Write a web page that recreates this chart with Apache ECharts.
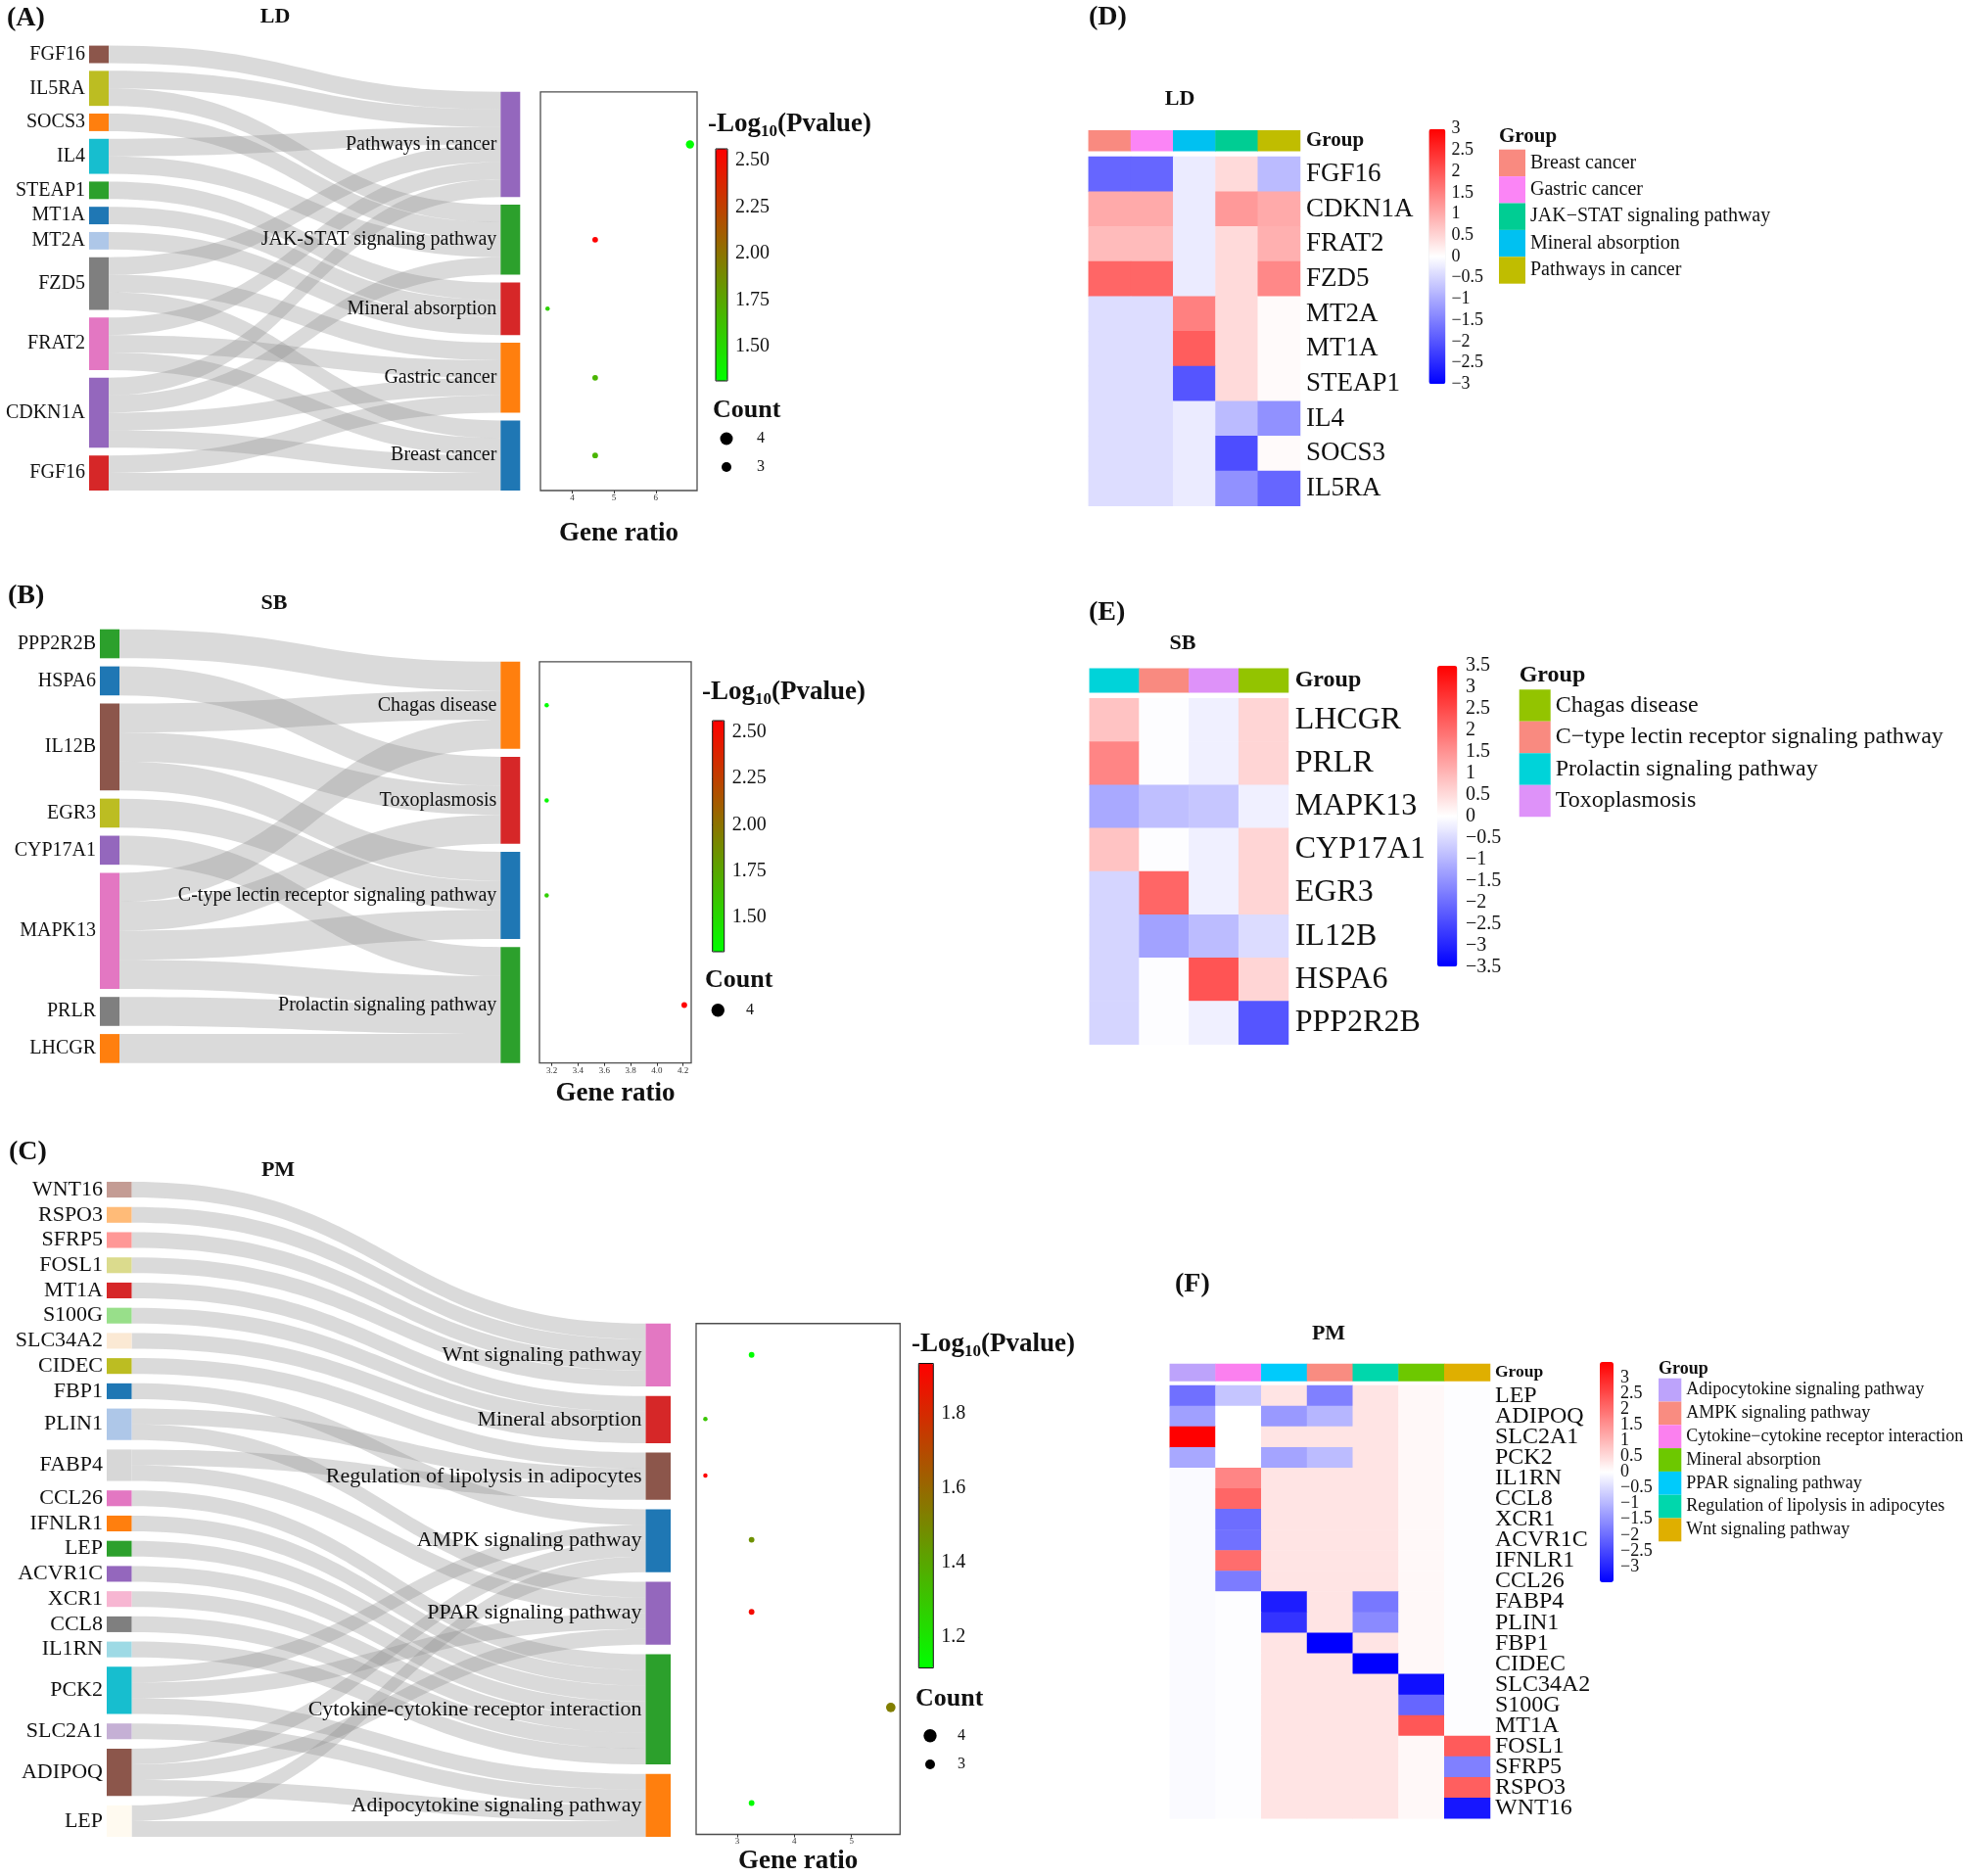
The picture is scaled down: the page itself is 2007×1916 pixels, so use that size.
<!DOCTYPE html>
<html><head><meta charset="utf-8">
<script src="https://cdn.jsdelivr.net/npm/echarts/dist/echarts.min.js"></script>
<style>html,body{margin:0;padding:0;background:#fff}#c{width:2007px;height:1916px}</style>
</head><body><div id="c"></div>
<script>
const FONT = "'Liberation Serif','DejaVu Serif',serif";
const MINUS = '\u2212';

// ================= Panel A (LD) : genes -> pathways =================
const A_genes = ['FGF16','IL5RA','SOCS3','IL4','STEAP1','MT1A','MT2A','FZD5','FRAT2','CDKN1A','FGF16'];
const A_geneColors = ['#8c564b','#bcbd22','#ff7f0e','#17becf','#2ca02c','#1f77b4','#aec7e8','#7f7f7f','#e377c2','#9467bd','#d62728'];
const A_pathways = ['Pathways in cancer','JAK-STAT signaling pathway','Mineral absorption','Gastric cancer','Breast cancer'];
const A_pathwayColors = ['#9467bd','#2ca02c','#d62728','#ff7f0e','#1f77b4'];
// [gene index, pathway index]
const A_links = [[0,0],[1,0],[1,1],[2,1],[3,0],[3,1],[4,2],[5,2],[6,2],[7,0],[7,3],[7,4],[8,0],[8,3],[8,4],[9,0],[9,1],[9,3],[9,4],[10,3],[10,4]];
const A_geneRatio = [6.82, 4.55, 3.41, 4.55, 4.55];
const A_logP = [1.316, 2.562, 1.54, 1.68, 1.68];
const A_count = [6, 4, 3, 4, 4];
const A_xTicks = [4, 5, 6];
const A_cbTicks = [1.5, 1.75, 2.0, 2.25, 2.5];

// ================= Panel B (SB) =================
const B_genes = ['PPP2R2B','HSPA6','IL12B','EGR3','CYP17A1','MAPK13','PRLR','LHCGR'];
const B_geneColors = ['#2ca02c','#1f77b4','#8c564b','#bcbd22','#9467bd','#e377c2','#7f7f7f','#ff7f0e'];
const B_pathways = ['Chagas disease','Toxoplasmosis','C-type lectin receptor signaling pathway','Prolactin signaling pathway'];
const B_pathwayColors = ['#ff7f0e','#d62728','#1f77b4','#2ca02c'];
const B_links = [[0,0],[1,1],[2,0],[2,1],[2,2],[3,2],[4,3],[5,0],[5,1],[5,2],[5,3],[6,3],[7,3]];
const B_geneRatio = [3.16, 3.16, 3.16, 4.21];
const B_logP = [1.316, 1.35, 1.55, 2.562];
const B_count = [3, 3, 3, 4];
const B_xTicks = [3.2, 3.4, 3.6, 3.8, 4.0, 4.2];
const B_cbTicks = [1.5, 1.75, 2.0, 2.25, 2.5];

// ================= Panel C (PM) =================
const C_genes = ['WNT16','RSPO3','SFRP5','FOSL1','MT1A','S100G','SLC34A2','CIDEC','FBP1','PLIN1','FABP4','CCL26','IFNLR1','LEP','ACVR1C','XCR1','CCL8','IL1RN','PCK2','SLC2A1','ADIPOQ','LEP'];
const C_geneColors = ['#c49c94','#ffbb78','#ff9896','#dbdb8d','#d62728','#98df8a','#fbe9d4','#bcbd22','#1f77b4','#aec7e8','#d7d7d7','#e377c2','#ff7f0e','#2ca02c','#9467bd','#f7b6d2','#7f7f7f','#9edae5','#17becf','#c5b0d5','#8c564b','#fffaf0'];
const C_pathways = ['Wnt signaling pathway','Mineral absorption','Regulation of lipolysis in adipocytes','AMPK signaling pathway','PPAR signaling pathway','Cytokine-cytokine receptor interaction','Adipocytokine signaling pathway'];
const C_pathwayColors = ['#e377c2','#d62728','#8c564b','#1f77b4','#9467bd','#2ca02c','#ff7f0e'];
const C_links = [[0,0],[1,0],[2,0],[3,0],[4,1],[5,1],[6,1],[7,2],[8,3],[9,2],[9,4],[10,2],[10,4],[11,5],[12,5],[13,5],[14,5],[15,5],[16,5],[17,5],[18,3],[18,4],[18,6],[19,6],[20,3],[20,4],[20,6],[21,3],[21,6]];
const C_geneRatio = [3.25, 2.44, 2.44, 3.25, 3.25, 5.69, 3.25];
const C_logP = [1.118, 1.30, 1.933, 1.47, 1.90, 1.53, 1.125];
const C_count = [4, 3, 3, 4, 4, 7, 4];
const C_xTicks = [3, 4, 5];
const C_cbTicks = [1.2, 1.4, 1.6, 1.8];

// ================= Panel D heatmap (LD) =================
const D_cols = ['Breast cancer','Gastric cancer','Mineral absorption','JAK'+MINUS+'STAT signaling pathway','Pathways in cancer'];
const D_colColors = ['#F98A80','#FB85F6','#00C1F1','#00CD93','#C0BD00'];
const D_legendOrder = ['Breast cancer','Gastric cancer','JAK'+MINUS+'STAT signaling pathway','Mineral absorption','Pathways in cancer'];
const D_rows = ['FGF16','CDKN1A','FRAT2','FZD5','MT2A','MT1A','STEAP1','IL4','SOCS3','IL5RA'];
const D_values = [
  [-1.8,-1.8,-0.24, 0.43,-0.8],
  [ 1.0, 1.0,-0.24, 1.2,  1.0],
  [ 0.8, 0.8,-0.24, 0.43, 0.93],
  [ 1.8, 1.8,-0.24, 0.43, 1.4],
  [-0.4,-0.4, 1.5,  0.43, 0.06],
  [-0.4,-0.4, 1.9,  0.43, 0.06],
  [-0.4,-0.4,-2.0,  0.43, 0.06],
  [-0.4,-0.4,-0.24,-0.8, -1.3],
  [-0.4,-0.4,-0.24,-2.1,  0.06],
  [-0.4,-0.4,-0.24,-1.3, -1.8]
];

// ================= Panel E heatmap (SB) =================
const E_cols = ['Prolactin signaling pathway','C'+MINUS+'type lectin receptor signaling pathway','Toxoplasmosis','Chagas disease'];
const E_colColors = ['#00D3D9','#F98A80','#DE92F9','#93C400'];
const E_legendOrder = ['Chagas disease','C'+MINUS+'type lectin receptor signaling pathway','Prolactin signaling pathway','Toxoplasmosis'];
const E_rows = ['LHCGR','PRLR','MAPK13','CYP17A1','EGR3','IL12B','HSPA6','PPP2R2B'];
const E_values = [
  [ 0.82,-0.03,-0.2, 0.58],
  [ 1.68,-0.03,-0.2, 0.58],
  [-1.18,-0.88,-0.78,-0.2],
  [ 0.82,-0.03,-0.2, 0.58],
  [-0.58, 2.1, -0.2, 0.58],
  [-0.58,-1.28,-0.92,-0.48],
  [-0.58,-0.03, 2.35, 0.58],
  [-0.58,-0.03,-0.2,-2.33]
];

// ================= Panel F heatmap (PM) =================
const F_cols = ['Adipocytokine signaling pathway','Cytokine'+MINUS+'cytokine receptor interaction','PPAR signaling pathway','AMPK signaling pathway','Regulation of lipolysis in adipocytes','Mineral absorption','Wnt signaling pathway'];
const F_colColors = ['#BDA3FB','#FB80EF','#00CBFB','#F98C81','#00D7AC','#6DC800','#DFAF00'];
const F_legendOrder = ['Adipocytokine signaling pathway','AMPK signaling pathway','Cytokine'+MINUS+'cytokine receptor interaction','Mineral absorption','PPAR signaling pathway','Regulation of lipolysis in adipocytes','Wnt signaling pathway'];
const F_rows = ['LEP','ADIPOQ','SLC2A1','PCK2','IL1RN','CCL8','XCR1','ACVR1C','IFNLR1','CCL26','FABP4','PLIN1','FBP1','CIDEC','SLC34A2','S100G','MT1A','FOSL1','SFRP5','RSPO3','WNT16'];
const F_values = [
  [-1.96,-0.8,  0.37,-1.75, 0.37, 0.1,-0.03],
  [-1.3,  0.0, -1.4, -1.0,  0.37, 0.1,-0.03],
  [ 3.5,  0.0,  0.37, 0.37, 0.37, 0.1,-0.03],
  [-1.2,  0.0, -1.25,-0.92, 0.37, 0.1,-0.03],
  [-0.07, 1.67, 0.37, 0.37, 0.37, 0.1,-0.03],
  [-0.07, 2.1,  0.37, 0.37, 0.37, 0.1,-0.03],
  [-0.07,-2.0,  0.37, 0.37, 0.37, 0.1,-0.03],
  [-0.07,-1.95, 0.37, 0.37, 0.37, 0.1,-0.03],
  [-0.07, 2.0,  0.37, 0.37, 0.37, 0.1,-0.03],
  [-0.07,-1.8,  0.37, 0.37, 0.37, 0.1,-0.03],
  [-0.07,-0.03,-3.1,  0.37,-1.85, 0.1,-0.03],
  [-0.07,-0.03,-2.8,  0.37,-1.6,  0.1,-0.03],
  [-0.07,-0.03, 0.37,-3.5,  0.37, 0.1,-0.03],
  [-0.07,-0.03, 0.37, 0.37,-3.5,  0.1,-0.03],
  [-0.07,-0.03, 0.37, 0.37, 0.37,-3.3,-0.03],
  [-0.07,-0.03, 0.37, 0.37, 0.37,-2.1,-0.03],
  [-0.07,-0.03, 0.37, 0.37, 0.37, 2.3,-0.03],
  [-0.07,-0.03, 0.37, 0.37, 0.37, 0.1, 2.25],
  [-0.07,-0.03, 0.37, 0.37, 0.37, 0.1,-1.75],
  [-0.07,-0.03, 0.37, 0.37, 0.37, 0.1, 2.2],
  [-0.07,-0.03, 0.37, 0.37, 0.37, 0.1,-3.2]
];

// ================= builders =================
const grids = [], xAxes = [], yAxes = [], series = [], visualMaps = [], legends = [], graphics = [];

function addGrid(g, xa, ya) {
  const gi = grids.length; grids.push(g);
  const xi = xAxes.length; xAxes.push(Object.assign({gridIndex: gi}, xa));
  const yi = yAxes.length; yAxes.push(Object.assign({gridIndex: gi}, ya));
  return {gi, xi, yi};
}

// stacking of node/link bands in "link units" (each gene-pathway link counts 1)
function sankeyLayout(genes, pathways, links, gap) {
  const gv = genes.map(() => 0), pv = pathways.map(() => 0);
  links.forEach(([g, p]) => { gv[g]++; pv[p]++; });
  const sum = a => a.reduce((s, v) => s + v, 0);
  const lt = sum(gv) + (genes.length - 1) * gap;
  const rt = sum(pv) + (pathways.length - 1) * gap;
  const T = Math.max(lt, rt);
  const gy = [], py = [];
  let y = T - lt; gv.forEach(v => { gy.push(y); y += v + gap; });
  y = T - rt; pv.forEach(v => { py.push(y); y += v + gap; });
  const idx = links.map((l, i) => i);
  const sy = [], ty = [], gOff = gy.slice(), pOff = py.slice();
  idx.slice().sort((a, b) => links[a][0] - links[b][0] || links[a][1] - links[b][1])
     .forEach(i => { sy[i] = gOff[links[i][0]]; gOff[links[i][0]] += 1; });
  idx.slice().sort((a, b) => links[a][1] - links[b][1] || links[a][0] - links[b][0])
     .forEach(i => { ty[i] = pOff[links[i][1]]; pOff[links[i][1]] += 1; });
  return {gv, pv, gy, py, sy, ty, T, rightTop: T - rt};
}

function sankeyPanel(P) {
  const L = sankeyLayout(P.genes, P.pathways, P.links, P.gap);
  const g = addGrid({left: P.sx0, top: P.sy0, width: P.sx1 - P.sx0, height: P.sy1 - P.sy0, show: false},
    {type: 'value', min: 0, max: 1, show: false},
    {type: 'value', min: 0, max: L.T, inverse: true, show: false});
  const nw = P.nodeW;
  series.push({
    type: 'custom', xAxisIndex: g.xi, yAxisIndex: g.yi, clip: false, silent: true,
    data: P.links.map((l, i) => [L.sy[i], L.ty[i]]),
    renderItem(params, api) {
      const x0 = api.coord([0, 0])[0] + nw, x1 = api.coord([1, 0])[0] - nw, xm = (x0 + x1) / 2;
      const s0 = api.coord([0, api.value(0)])[1], s1 = api.coord([0, api.value(0) + 1])[1];
      const t0 = api.coord([0, api.value(1)])[1], t1 = api.coord([0, api.value(1) + 1])[1];
      return {type: 'path',
        shape: {pathData: `M${x0} ${s0}C${xm} ${s0} ${xm} ${t0} ${x1} ${t0}L${x1} ${t1}C${xm} ${t1} ${xm} ${s1} ${x0} ${s1}Z`},
        style: {fill: 'rgba(140,140,140,0.32)'}};
    }
  });
  const nodes = [];
  P.genes.forEach((n, i) => nodes.push([0, L.gy[i], L.gy[i] + L.gv[i], i]));
  P.pathways.forEach((n, j) => nodes.push([1, L.py[j], L.py[j] + L.pv[j], j]));
  series.push({
    type: 'custom', xAxisIndex: g.xi, yAxisIndex: g.yi, clip: false, silent: true,
    data: nodes,
    renderItem(params, api) {
      const side = api.value(0), k = api.value(3);
      const p0 = api.coord([side, api.value(1)]), p1 = api.coord([side, api.value(2)]);
      const x = side === 0 ? p0[0] : p0[0] - nw;
      const color = side === 0 ? P.geneColors[k] : P.pathwayColors[k];
      const name = side === 0 ? P.genes[k] : P.pathways[k];
      return {type: 'group', children: [
        {type: 'rect', shape: {x: x, y: p0[1], width: nw, height: p1[1] - p0[1]}, style: {fill: color}},
        {type: 'text', style: {text: name, x: x - 4, y: (p0[1] + p1[1]) / 2, align: 'right', verticalAlign: 'middle',
          fontSize: P.font, fontFamily: FONT, fill: '#111'}}
      ]};
    }
  });
  return L;
}

function dotPanel(P, L) {
  const unit = (P.sy1 - P.sy0) / L.T;
  const top = P.sy0 + L.rightTop * unit;
  const g = addGrid({left: P.dx0, top: top, width: P.dx1 - P.dx0, height: P.sy1 - top, show: true,
      borderColor: '#4d4d4d', borderWidth: 1.3, backgroundColor: '#fff'},
    {type: 'value', min: P.xmin, max: P.xmax, splitLine: {show: false}, axisLine: {show: false},
      axisTick: {show: true, length: 3, customValues: P.xTicks, lineStyle: {color: '#333'}},
      axisLabel: {customValues: P.xTicks, fontSize: 9, margin: 3, color: '#333', fontFamily: FONT,
        formatter: v => v.toFixed(P.xDec)},
      name: 'Gene ratio', nameLocation: 'middle', nameGap: P.nameGap,
      nameTextStyle: {fontSize: 27, fontWeight: 'bold', fontFamily: FONT, color: '#111', verticalAlign: 'middle'}},
    {type: 'value', min: L.rightTop, max: L.T, inverse: true, show: false});
  const si = series.length;
  series.push({type: 'scatter', xAxisIndex: g.xi, yAxisIndex: g.yi, symbol: 'circle', clip: false, silent: true,
    symbolSize: v => 1.3 * v[3] + 0.6,
    data: P.pathways.map((n, j) => [P.ratio[j], L.py[j] + L.pv[j] / 2, P.logp[j], P.count[j]]),
    itemStyle: {opacity: 1}});
  visualMaps.push({type: 'continuous', seriesIndex: si, dimension: 2, min: P.vmin, max: P.vmax,
    inRange: {color: ['#00ff00', '#ff0000']}, left: P.cbx, top: P.cby, itemWidth: P.cbw, itemHeight: P.cbh,
    calculable: false, padding: 0, hoverLink: false, z: 1});
  addGrid({left: P.cbx, top: P.cby, width: P.cbw, height: P.cbh, show: true, borderColor: '#111', borderWidth: 1,
      backgroundColor: 'transparent', z: 10},
    {type: 'value', show: false, min: 0, max: 1},
    {type: 'value', position: 'right', min: P.vmin, max: P.vmax, splitLine: {show: false}, axisLine: {show: false},
      axisTick: {show: true, length: 5, customValues: P.cbTicks, lineStyle: {color: '#111'}},
      axisLabel: {customValues: P.cbTicks, formatter: v => v.toFixed(P.cbDec), fontSize: 20, fontFamily: FONT, color: '#111', margin: 8}});
  // legend titles
  graphics.push({type: 'text', x: P.logX, y: P.logY, silent: true, style: {
    text: '{a|-Log}{b|10}{a|(Pvalue)}', align: 'left', verticalAlign: 'middle',
    rich: {a: {fontSize: 27, fontWeight: 'bold', fontFamily: FONT, fill: '#111', lineHeight: 32},
           b: {fontSize: 17, fontWeight: 'bold', fontFamily: FONT, fill: '#111', lineHeight: 14, verticalAlign: 'bottom'}}}});
  txt('Count', P.cntX, P.cntY, 26, {bold: true});
  P.cntItems.forEach(it => {
    graphics.push({type: 'circle', silent: true, shape: {cx: P.cntCx, cy: it.y, r: it.r}, style: {fill: '#000'}});
    txt(String(it.c), P.cntLx, it.y, 16, {});
  });
}

function heatPanel(H) {
  const gg = addGrid({left: H.x0, top: H.gy0, width: H.x1 - H.x0, height: H.gy1 - H.gy0},
    {type: 'category', data: H.cols, show: false},
    {type: 'category', data: ['Group'], position: 'right', axisLine: {show: false}, axisTick: {show: false},
      axisLabel: {interval: 0, fontWeight: 'bold', fontSize: H.groupFont, fontFamily: FONT, color: '#111', margin: H.labelMargin}});
  H.cols.forEach((c, ci) => series.push({type: 'heatmap', name: c, xAxisIndex: gg.xi, yAxisIndex: gg.yi,
    data: [[ci, 0, 1]], itemStyle: {color: H.colColors[ci]}, silent: true}));
  const hg = addGrid({left: H.x0, top: H.hy0, width: H.x1 - H.x0, height: H.hy1 - H.hy0},
    {type: 'category', data: H.cols, show: false},
    {type: 'category', data: H.rows, inverse: true, position: 'right', axisLine: {show: false}, axisTick: {show: false},
      axisLabel: {interval: 0, fontSize: H.rowFont, fontFamily: FONT, color: '#111', margin: H.labelMargin}});
  const si = series.length;
  const data = [];
  H.values.forEach((row, ri) => row.forEach((v, ci) => data.push([ci, ri, v])));
  series.push({type: 'heatmap', xAxisIndex: hg.xi, yAxisIndex: hg.yi, data: data, silent: true});
  visualMaps.push({type: 'continuous', seriesIndex: si, min: -H.lim, max: H.lim,
    inRange: {color: ['#0000ff', '#ffffff', '#ff0000']}, left: H.cbx, top: H.cby, itemWidth: H.cbw, itemHeight: H.cbh,
    calculable: false, padding: 0, hoverLink: false});
  addGrid({left: H.cbx, top: H.cby, width: H.cbw, height: H.cbh, show: false},
    {type: 'value', show: false, min: 0, max: 1},
    {type: 'value', position: 'right', min: -H.lim, max: H.lim, interval: 0.5, splitLine: {show: false},
      axisLine: {show: false}, axisTick: {show: false},
      axisLabel: {formatter: v => (v < 0 ? MINUS : '') + String(+Math.abs(v).toFixed(1)), fontSize: H.cbFont,
        fontFamily: FONT, color: '#111', margin: H.cbMargin}});
  legends.push({orient: 'vertical', left: H.lgx, top: H.lgy, itemWidth: H.lgw, itemHeight: H.lgh, itemGap: 0,
    icon: 'rect', selectedMode: false, padding: 0,
    textStyle: {fontSize: H.lgFont, fontFamily: FONT, color: '#111'},
    data: H.legendOrder.map(n => ({name: n, icon: 'rect', itemStyle: {color: H.colColors[H.cols.indexOf(n)]}}))});
  txt('Group', H.lgx, H.lgTitleY, H.lgTitleFont, {bold: true});
}

function txt(text, x, y, size, o) {
  const al = o.align || 'left';
  graphics.push({type: 'text', x: x, y: y, silent: true, style: {text: text, fontSize: size, fontFamily: FONT,
    fontWeight: o.bold ? 'bold' : 'normal', fill: '#111', align: al, verticalAlign: 'middle'}});
}

// ---------- A ----------
const LA = sankeyPanel({genes: A_genes, geneColors: A_geneColors, pathways: A_pathways, pathwayColors: A_pathwayColors,
  links: A_links, gap: 0.44, sx0: 91, sx1: 531.3, sy0: 46.6, sy1: 501, nodeW: 20, font: 20});
dotPanel({pathways: A_pathways, ratio: A_geneRatio, logp: A_logP, count: A_count, sy0: 46.6, sy1: 501,
  dx0: 552, dx1: 712, xmin: 3.24, xmax: 6.99, xTicks: A_xTicks, xDec: 0, nameGap: 44,
  vmin: 1.316, vmax: 2.562, cbx: 731, cby: 152, cbw: 12, cbh: 237, cbTicks: A_cbTicks, cbDec: 2,
  logX: 723, logY: 127, cntX: 728, cntY: 419, cntCx: 742, cntLx: 773,
  cntItems: [{c: 4, y: 448, r: 6.5}, {c: 3, y: 477, r: 5}]}, LA);

// ---------- B ----------
const LB = sankeyPanel({genes: B_genes, geneColors: B_geneColors, pathways: B_pathways, pathwayColors: B_pathwayColors,
  links: B_links, gap: 0.28, sx0: 102, sx1: 531.3, sy0: 642.7, sy1: 1085.7, nodeW: 20, font: 20});
dotPanel({pathways: B_pathways, ratio: B_geneRatio, logp: B_logP, count: B_count, sy0: 642.7, sy1: 1085.7,
  dx0: 551, dx1: 706, xmin: 3.105, xmax: 4.263, xTicks: B_xTicks, xDec: 1, nameGap: 31,
  vmin: 1.316, vmax: 2.562, cbx: 727.7, cby: 736, cbw: 12, cbh: 236, cbTicks: B_cbTicks, cbDec: 2,
  logX: 717, logY: 706.7, cntX: 720, cntY: 1001.7, cntCx: 733.3, cntLx: 762,
  cntItems: [{c: 4, y: 1031.7, r: 6.7}]}, LB);

// ---------- C ----------
const LC = sankeyPanel({genes: C_genes, geneColors: C_geneColors, pathways: C_pathways, pathwayColors: C_pathwayColors,
  links: C_links, gap: 0.6, sx0: 109, sx1: 685, sy0: 1207, sy1: 1876, nodeW: 25.5, font: 22});
dotPanel({pathways: C_pathways, ratio: C_geneRatio, logp: C_logP, count: C_count, sy0: 1207, sy1: 1876,
  dx0: 711, dx1: 919.3, xmin: 2.2775, xmax: 5.8525, xTicks: C_xTicks, xDec: 0, nameGap: 28,
  vmin: 1.118, vmax: 1.933, cbx: 938.3, cby: 1392.5, cbw: 15, cbh: 311, cbTicks: C_cbTicks, cbDec: 1,
  logX: 931, logY: 1373.4, cntX: 935, cntY: 1735, cntCx: 950, cntLx: 978,
  cntItems: [{c: 4, y: 1772.7, r: 6.7}, {c: 3, y: 1802, r: 5}]}, LC);

// ---------- D ----------
heatPanel({cols: D_cols, colColors: D_colColors, legendOrder: D_legendOrder, rows: D_rows, values: D_values, lim: 3,
  x0: 1111.8, x1: 1328, gy0: 133.3, gy1: 154.3, hy0: 160, hy1: 516.7, rowFont: 27, groupFont: 21, labelMargin: 6,
  cbx: 1459.4, cby: 131.7, cbw: 17, cbh: 260.6, cbFont: 18, cbMargin: 6,
  lgx: 1531, lgy: 152.7, lgw: 27, lgh: 27.4, lgFont: 20, lgTitleY: 140, lgTitleFont: 21});
// ---------- E ----------
heatPanel({cols: E_cols, colColors: E_colColors, legendOrder: E_legendOrder, rows: E_rows, values: E_values, lim: 3.5,
  x0: 1112.8, x1: 1316, gy0: 682.7, gy1: 707.3, hy0: 713.3, hy1: 1066.7, rowFont: 32, groupFont: 24, labelMargin: 6.7,
  cbx: 1468, cby: 680, cbw: 20.4, cbh: 307.3, cbFont: 20, cbMargin: 8.6,
  lgx: 1551.7, lgy: 704.3, lgw: 32, lgh: 32.5, lgFont: 24, lgTitleY: 690, lgTitleFont: 24});
// ---------- F ----------
heatPanel({cols: F_cols, colColors: F_colColors, legendOrder: F_legendOrder, rows: F_rows, values: F_values, lim: 3.5,
  x0: 1194.8, x1: 1522, gy0: 1393, gy1: 1410.4, hy0: 1415, hy1: 1857.3, rowFont: 24, groupFont: 17.5, labelMargin: 5,
  cbx: 1634, cby: 1391, cbw: 14, cbh: 225, cbFont: 18, cbMargin: 7,
  lgx: 1694, lgy: 1407.7, lgw: 23.3, lgh: 23.8, lgFont: 18, lgTitleY: 1398, lgTitleFont: 18});

// panel letters and titles
txt('(A)', 7, 19, 28, {bold: true});    txt('LD', 281, 17, 22, {bold: true, align: 'center'});
txt('(B)', 8, 609, 28, {bold: true});   txt('SB', 280, 616, 22, {bold: true, align: 'center'});
txt('(C)', 9, 1177, 28, {bold: true});  txt('PM', 284, 1195, 22, {bold: true, align: 'center'});
txt('(D)', 1112, 18, 28, {bold: true}); txt('LD', 1205, 101, 22, {bold: true, align: 'center'});
txt('(E)', 1112, 626, 28, {bold: true}); txt('SB', 1208, 657, 22, {bold: true, align: 'center'});
txt('(F)', 1200, 1312, 28, {bold: true}); txt('PM', 1357, 1362, 22, {bold: true, align: 'center'});

const chart = echarts.init(document.getElementById('c'), null, {width: 2007, height: 1916});
chart.setOption({
  animation: false, backgroundColor: '#fff',
  grid: grids, xAxis: xAxes, yAxis: yAxes, series: series,
  visualMap: visualMaps, legend: legends, graphic: {elements: graphics}
});
</script></body></html>
